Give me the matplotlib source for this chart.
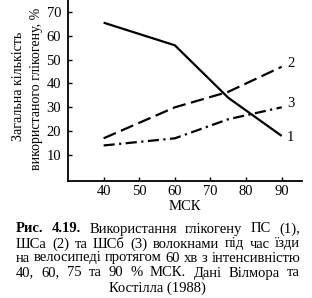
import matplotlib
matplotlib.use("Agg")
import matplotlib.pyplot as plt

plt.rcParams['font.family'] = ['Liberation Serif', 'DejaVu Serif']

# data
intensity = [40, 60, 75, 90]
fibre_1 = [65.5, 56, 34, 18]    # ПС
fibre_2 = [17, 30, 36.5, 47]    # ШСа
fibre_3 = [14, 17, 25, 30]      # ШСб
series_labels = ['1', '2', '3']

x_ticks = [40, 50, 60, 70, 80, 90]
y_ticks = [10, 20, 30, 40, 50, 60, 70]
x_label = 'МСК'
y_label_lines = ['Загальна кількість', 'використаного глікогену, %']

caption_lines = [
    [('Рис.', True), ('4.19.', True), ('Використання', False), ('глікогену', False),
     ('ПС', False), ('(1),', False)],
    [('ШСа', False), ('(2)', False), ('та', False), ('ШСб', False), ('(3)', False),
     ('волокнами', False), ('під', False), ('час', False), ('їзди', False)],
    [('на', False), ('велосипеді', False), ('протягом', False), ('60', False), ('хв', False),
     ('з', False), ('інтенсивністю', False)],
    [('40,', False), ('60,', False), ('75', False), ('та', False), ('90', False), ('%', False),
     ('МСК.', False), ('Дані', False), ('Вілмора', False), ('та', False)],
]
caption_last = 'Костілла (1988)'

W, H = 312, 298
fig = plt.figure(figsize=(W / 100, H / 100), dpi=100)
ax = fig.add_axes([68 / W, 1 - 181 / H, (302 - 68) / W, 181 / H])

ax.plot(intensity, fibre_1, color='black', lw=1.6, solid_capstyle='butt')
ax.plot(intensity, fibre_2, color='black', lw=1.6, dashes=(6, 2.5))
ax.plot(intensity, fibre_3, color='black', lw=1.6, dashes=(5, 2, 1, 2))

ax.set_xlim(30, 95.7)
ax.set_ylim(-0.9, 75)
ax.set_xticks(x_ticks)
ax.set_yticks(y_ticks)
ax.tick_params(direction='in', length=3, width=1, labelsize=10.5)
ax.tick_params(axis='x', pad=3)
ax.tick_params(axis='y', pad=5)
for s in ['top', 'right']:
    ax.spines[s].set_visible(False)
for s in ['left', 'bottom']:
    ax.spines[s].set_linewidth(1.3)

# series numbers at the line ends
for lab, ys in zip(series_labels, [fibre_1, fibre_2, fibre_3]):
    ax.text(91.5, ys[-1] + (1.5 if lab != '1' else -0.5), lab, fontsize=10.5,
            ha='left', va='center')

fig.text(185 / W, 1 - 207 / H, x_label, fontsize=10.5, ha='center', va='center')
fig.text(19 / W, 1 - 86 / H, y_label_lines[0], fontsize=10, rotation=90,
         ha='center', va='center')
fig.text(37 / W, 1 - 89 / H, y_label_lines[1], fontsize=10, rotation=90,
         ha='center', va='center')

# justified caption
fig.canvas.draw()
renderer = fig.canvas.get_renderer()
cap_size = 10.5
left, right = 16, 300
line_y = [229, 244, 258, 273]
for words, y in zip(caption_lines, line_y):
    items = []
    for w, b in words:
        t = fig.text(0, 1 - y / H, w, fontsize=cap_size, ha='left', va='center',
                     fontweight='bold' if b else 'normal')
        items.append(t)
    widths = [t.get_window_extent(renderer).width for t in items]
    gap = (right - left - sum(widths)) / (len(items) - 1)
    x = left
    for t, wd in zip(items, widths):
        t.set_x(x / W)
        x += wd + gap
fig.text(157 / W, 1 - 288 / H, caption_last, fontsize=cap_size, ha='center', va='center')

fig.savefig('out.png', dpi=100)
